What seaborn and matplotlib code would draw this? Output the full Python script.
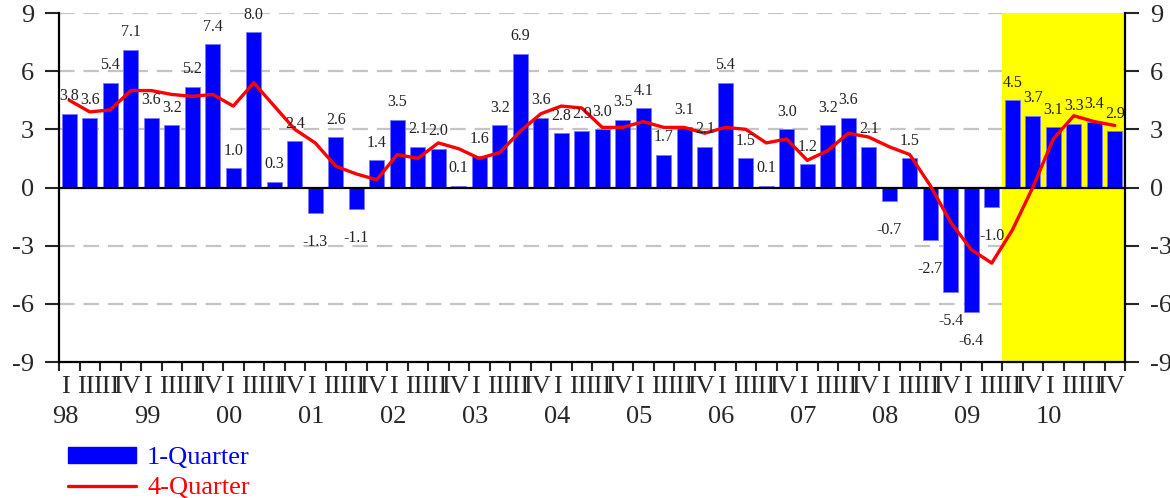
import matplotlib
matplotlib.use("Agg")
import matplotlib.pyplot as plt
import matplotlib.transforms as mtransforms
from matplotlib.patches import Patch
from matplotlib.lines import Line2D
import numpy as np
import pandas as pd
import seaborn as sns

# quarterly data, 1998 Q1 .. 2010 Q4 (from 2009 Q3 on: forecast)
years = ["98", "99", "00", "01", "02", "03", "04", "05", "06", "07", "08", "09", "10"]
quarters = ["I", "II", "III", "IV"]
q1_growth = [3.8, 3.6, 5.4, 7.1, 3.6, 3.2, 5.2, 7.4, 1.0, 8.0, 0.3, 2.4,
             -1.3, 2.6, -1.1, 1.4, 3.5, 2.1, 2.0, 0.1, 1.6, 3.2, 6.9, 3.6,
             2.8, 2.9, 3.0, 3.5, 4.1, 1.7, 3.1, 2.1, 5.4, 1.5, 0.1, 3.0,
             1.2, 3.2, 3.6, 2.1, -0.7, 1.5, -2.7, -5.4, -6.4, -1.0, 4.5, 3.7,
             3.1, 3.3, 3.4, 2.9]
q4_growth = [4.5, 3.9, 4.0, 5.0, 5.0, 4.8, 4.7, 4.8, 4.2, 5.4, 4.2, 3.0,
             2.3, 1.1, 0.7, 0.4, 1.7, 1.5, 2.3, 2.0, 1.5, 1.8, 2.9, 3.8,
             4.2, 4.1, 3.1, 3.1, 3.4, 3.1, 3.1, 2.8, 3.1, 3.0, 2.3, 2.5,
             1.4, 1.9, 2.8, 2.6, 2.1, 1.7, 0.1, -1.8, -3.2, -3.9, -2.2, 0.0,
             2.5, 3.7, 3.4, 3.2]
forecast_start = 46

df = pd.DataFrame({"idx": np.arange(len(q1_growth)), "q1": q1_growth, "q4": q4_growth})

sns.set_style("white")
plt.rcParams["font.family"] = ["Liberation Serif", "DejaVu Serif"]
plt.rcParams["axes.unicode_minus"] = False

fig = plt.figure(figsize=(11.7, 4.98), dpi=100)
ax = fig.add_axes([59 / 1170, 1 - 362 / 498, (1125 - 59) / 1170, 349 / 498])

n = len(df)
ax.axvspan(forecast_start - 0.5, n - 0.5, color="yellow", zorder=0.5, lw=0)
for g in [-6, -3, 3, 6, 9]:
    ax.axhline(g, color="#c4c4c4", lw=1.6, ls=(0, (7, 4)), zorder=0.3)

sns.barplot(data=df, x="idx", y="q1", native_scale=True, color="blue",
            saturation=1, width=0.73, edgecolor="#7a7aff", linewidth=0.6,
            zorder=2, ax=ax)
sns.lineplot(data=df, x="idx", y="q4", color="red", linewidth=2.4,
             zorder=4, ax=ax)
ax.axhline(0, color="black", lw=1.6, zorder=3)

for i, v in enumerate(q1_growth):
    off = 12.5 if v >= 0 else -21
    ax.annotate(f"{v:.1f}", (i, v), xytext=(0, off), textcoords="offset points",
                ha="center", va="center", fontsize=11.5, color="#222222", zorder=5)

ax.set_xlim(-0.5, n - 0.5)
ax.set_ylim(-9, 9)
ax.set_yticks(range(-9, 10, 3))
ax.set_xticks(np.arange(-0.5, n, 1.0))
ax.set_xticklabels([])
ax.set_xlabel("")
ax.set_ylabel("")
ax.tick_params(axis="y", which="major", direction="out", length=10, width=1.5,
               pad=8, labelsize=19, left=True, right=True, labelright=True)
ax.tick_params(axis="x", direction="out", length=6.5, width=1.5, bottom=True)
for s in ["left", "right", "bottom"]:
    ax.spines[s].set_visible(True)
    ax.spines[s].set_color("black")
    ax.spines[s].set_linewidth(1.6)
ax.spines["top"].set_visible(False)

# quarter / year labels under the axis
trans = mtransforms.blended_transform_factory(ax.transData, ax.transAxes)
for i in range(n):
    ax.text(i - 0.2, -0.072, quarters[i % 4], transform=trans, ha="center",
            va="center", fontsize=19, clip_on=False)
for k, y in enumerate(years):
    ax.text(4 * k - 0.2, -0.158, y, transform=trans, ha="center",
            va="center", fontsize=19, clip_on=False)

handles = [Patch(facecolor="blue", edgecolor="blue"),
           Line2D([], [], color="red", lw=2.4)]
ax.legend(handles=handles, labels=["1-Quarter", "4-Quarter"], loc="upper left",
          bbox_to_anchor=(0.058, 0.103), bbox_transform=fig.transFigure,
          frameon=False, fontsize=19, labelcolor=["blue", "red"],
          handlelength=2.6, handleheight=0.55, handletextpad=0.4,
          labelspacing=0.3, borderpad=0, borderaxespad=0)

fig.savefig("out.png", dpi=100)
